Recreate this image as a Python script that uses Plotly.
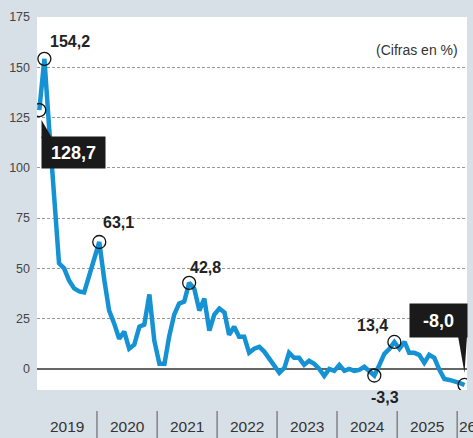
import plotly.graph_objects as go

# Monthly values, Jan 2019 .. Feb 2026 (in %)
values = [
    128.7, 154.2, 121, 87, 52.5, 50, 44, 40, 38.5, 38, 46, 54,      # 2019
    63.1, 44, 29, 22.5, 15, 18.5, 10, 12, 21, 22, 37, 14,           # 2020
    2.5, 2.5, 16, 27, 32.5, 33.5, 42.8, 40, 29, 35, 19, 27,         # 2021
    30, 28, 17, 21, 16, 16, 8, 10, 11, 8.6, 5, 2,                   # 2022
    -2, 0.5, 8, 5.5, 5.5, 2, 4, 2.5, 0, -3.5, 0, -1,                # 2023
    2, -1, 0, -1, -0.5, 1, -1, -3.3, 2, 7.5, 10, 13.4,              # 2024
    10, 13.5, 8, 8, 7, 3, 7, 5.5, -0.5, -5, -5.5, -6,               # 2025
    -7, -8.0,                                                       # 2026
]
start_year = 2019
dates = []
for k in range(len(values)):
    y = start_year + k // 12
    m = k % 12 + 1
    dates.append(f"{y}-{m:02d}-15")

year_labels = ["2019", "2020", "2021", "2022", "2023", "2024", "2025"]
last_label = "26"
y_ticks = [0, 25, 50, 75, 100, 125, 150, 175]

# highlighted points: (index, text)
highlights = [(0, "128,7"), (1, "154,2"), (12, "63,1"), (30, "42,8"),
              (67, "-3,3"), (71, "13,4"), (85, "-8,0")]

W, H = 473, 438
L, R, T, B = 37, 6, 17, 48
PW, PH = W - L - R, H - T - B

def px(x):
    return (x - L) / PW

def py(y):
    return (H - B - y) / PH

fig = go.Figure()
fig.add_trace(go.Scatter(
    x=dates, y=values, mode="lines",
    line=dict(color="#1592d3", width=4.5),
    hoverinfo="skip", showlegend=False))

hi_idx = [h[0] for h in highlights]
fig.add_trace(go.Scatter(
    x=[dates[i] for i in hi_idx], y=[values[i] for i in hi_idx],
    mode="markers",
    marker=dict(symbol="circle-open", size=13, color="#111",
                line=dict(width=1.3, color="#111")),
    hoverinfo="skip", showlegend=False))

# plain labels with offsets (pixels)
plain_offsets = {1: (25.5, 17), 12: (19.5, 20), 30: (16.5, 15),
                 71: (-21.5, 16), 67: (10.5, -22)}
annotations = []
for i, txt in highlights:
    if i in plain_offsets:
        dx, dy = plain_offsets[i]
        annotations.append(dict(
            x=dates[i], y=values[i], xref="x", yref="y", text=txt,
            showarrow=False, xshift=dx, yshift=dy,
            xanchor="center", yanchor="middle",
            font=dict(family="Liberation Sans, Arial, sans-serif", size=16,
                      color="#222", weight="bold")))

box_specs = {0: (34, -42.5, 63, 31), 85: (-26, 64.5, 57, 33)}
for i, txt in highlights:
    if i in box_specs:
        dx, dy, bw, bh = box_specs[i]
        annotations.append(dict(
            x=dates[i], y=values[i], xref="x", yref="y",
            text="<b>" + txt + "</b>",
            showarrow=False, xshift=dx, yshift=dy,
            xanchor="center", yanchor="middle",
            width=bw, height=bh, bgcolor="#1a1a1a", borderpad=0,
            font=dict(family="Liberation Sans, Arial, sans-serif", size=18,
                      color="white")))

annotations.append(dict(
    x=px(417), y=py(50), xref="paper", yref="paper", text="(Cifras en %)",
    showarrow=False, xanchor="center", yanchor="middle",
    font=dict(family="Liberation Sans, Arial, sans-serif", size=14, color="#333")))

for yl in year_labels:
    annotations.append(dict(
        x=f"{yl}-07-02", y=py(426), xref="x", yref="paper", text=yl,
        showarrow=False, xanchor="center", yanchor="middle",
        font=dict(family="Liberation Sans, Arial, sans-serif", size=15.5, color="#333")))
annotations.append(dict(
    x="2026-01-01", y=py(426), xref="x", yref="paper", text=last_label,
    showarrow=False, xanchor="left", yanchor="middle", xshift=0,
    font=dict(family="Liberation Sans, Arial, sans-serif", size=15.5, color="#333")))

shapes = []
for yr in range(2020, 2027):
    shapes.append(dict(type="line", xref="x", yref="paper",
                       x0=f"{yr}-01-01", x1=f"{yr}-01-01",
                       y0=py(411), y1=py(438),
                       line=dict(color="#555", width=1)))

def tri(pts):
    s = "M " + " L ".join(f"{px(a):.5f},{py(b):.5f}" for a, b in pts) + " Z"
    return dict(type="path", xref="paper", yref="paper", path=s,
                fillcolor="#1a1a1a", line=dict(width=0), layer="above")

shapes.append(tri([(41.5, 120), (41.5, 138), (52, 138)]))
shapes.append(tri([(458, 336), (467, 336), (464.5, 373)]))

fig.update_layout(
    width=W, height=H,
    margin=dict(l=L, r=R, t=T, b=B, pad=0),
    paper_bgcolor="#d8e0e7", plot_bgcolor="white",
    xaxis=dict(range=["2019-01-01", "2026-03-02"], showgrid=False,
               showticklabels=False, zeroline=False, showline=False,
               fixedrange=True),
    yaxis=dict(range=[-10.5, 175], tickvals=y_ticks,
               ticktext=[str(v) for v in y_ticks],
               showgrid=True, gridcolor="#999", gridwidth=1,
               griddash="3px,2px",
               zeroline=True, zerolinecolor="#666", zerolinewidth=1.6,
               showline=False, ticks="", ticklabelstandoff=6,
               tickfont=dict(family="Liberation Sans, Arial, sans-serif",
                             size=12.5, color="#444"),
               fixedrange=True),
    annotations=annotations,
    shapes=shapes,
    showlegend=False,
)

fig.write_html(
    "out.html",
    config={"displayModeBar": False},
    post_script="document.body.style.margin='0px';document.body.style.overflow='hidden';document.body.style.background='#d8e0e7';",
)
